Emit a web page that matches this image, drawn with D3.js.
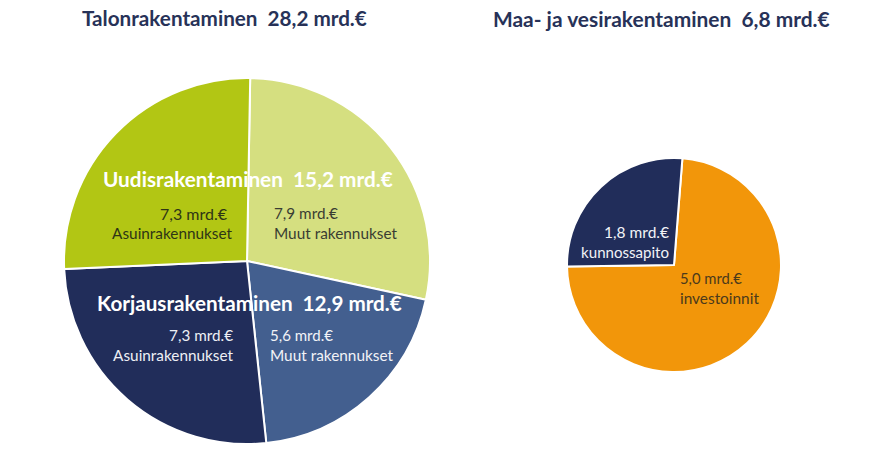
<!DOCTYPE html>
<html>
<head>
<meta charset="utf-8">
<script src="https://cdn.jsdelivr.net/npm/d3@7"></script>
<style>
  html, body { margin: 0; padding: 0; background: #fff; }
  svg { display: block; }
  text { white-space: pre; font-family: Lato, "Open Sans", sans-serif; }
</style>
</head>
<body>
<svg id="chart" width="869" height="463"></svg>
<script>
// ---- Data ----
const titles = ["Talonrakentaminen  28,2 mrd.€", "Maa- ja vesirakentaminen  6,8 mrd.€"];

// Talonrakentaminen (clockwise from top)
const talonCategories = ["Muut rakennukset", "Muut rakennukset", "Asuinrakennukset", "Asuinrakennukset"];
const talonGroups = ["Uudisrakentaminen", "Korjausrakentaminen", "Korjausrakentaminen", "Uudisrakentaminen"];
const talonValues = [7.9, 5.6, 7.3, 7.3];
const talonValueLabels = ["7,9 mrd.€", "5,6 mrd.€", "7,3 mrd.€", "7,3 mrd.€"];
const groupLabels = ["Uudisrakentaminen  15,2 mrd.€", "Korjausrakentaminen  12,9 mrd.€"];

// Maa- ja vesirakentaminen (clockwise from top)
const maaCategories = ["investoinnit", "kunnossapito"];
const maaValues = [5.0, 1.8];
const maaValueLabels = ["5,0 mrd.€", "1,8 mrd.€"];

// ---- Styles ----
const talonColors = ["#d5df80", "#435f8f", "#212d5a", "#b2c614"];
const talonTextColors = ["#3a3d33", "#f2f3f7", "#eef0f5", "#2e3516"];
const maaColors = ["#f2960a", "#212d5a"];
const maaTextColors = ["#4b3a1c", "#f2f3f7"];
const titleColor = "#273258";

const svg = d3.select("#chart");
const deg = Math.PI / 180;

function fitText(sel, targetWidth) {
  const w = sel.node().getComputedTextLength();
  const fs = parseFloat(sel.attr("font-size"));
  sel.attr("font-size", fs * targetWidth / w);
}

function addText(x, y, str, opts) {
  const t = svg.append("text")
    .attr("x", x)
    .attr("y", y)
    .attr("dominant-baseline", "central")
    .attr("text-anchor", opts.anchor || "start")
    .attr("font-size", opts.size || 14)
    .attr("font-weight", opts.weight || "normal")
    .attr("fill", opts.color || "#000")
    .text(str);
  if (opts.width) fitText(t, opts.width);
  return t;
}

// ---- Titles ----
addText(82, 18, titles[0], {size: 18, weight: "bold", color: titleColor, width: 285});
addText(493, 18, titles[1], {size: 18, weight: "bold", color: titleColor, width: 337});

// ---- Left pie ----
const L = {cx: 247, cy: 261, r: 183};
const pieL = d3.pie().sort(null).startAngle(1 * deg).endAngle(361 * deg)(talonValues);
const arcL = d3.arc().innerRadius(0).outerRadius(L.r);
const gL = svg.append("g").attr("transform", `translate(${L.cx},${L.cy})`);
gL.selectAll("path").data(pieL).join("path")
  .attr("d", arcL)
  .attr("fill", (d, i) => talonColors[i])
  .attr("stroke", "#fff")
  .attr("stroke-width", 2)
  .attr("stroke-linejoin", "round");

// slice labels (value line + category line), relative to pie center
const talonLabelPos = [
  {dx: 27, dy: -48, anchor: "start", w1: 64, w2: 123},
  {dx: 23, dy: 74, anchor: "start", w1: 63, w2: 123},
  {dx: -14, dy: 74, anchor: "end", w1: 64, w2: 120},
  {dx: -15, dy: -48, anchor: "end", w1: 67, w2: 120}
];
pieL.forEach((d, i) => {
  const p = talonLabelPos[i];
  const x = L.cx + p.dx, y = L.cy + p.dy;
  addText(p.anchor === "end" && i === 3 ? x - 5 : x, y, talonValueLabels[i],
    {anchor: p.anchor, size: 14, color: talonTextColors[i], width: p.w1});
  addText(x, y + 20, talonCategories[i],
    {anchor: p.anchor, size: 14, color: talonTextColors[i], width: p.w2});
});

// group labels
addText(103, 178, groupLabels[0], {size: 18, weight: "bold", color: "#ffffff", width: 290});
addText(97, 303, groupLabels[1], {size: 18, weight: "bold", color: "#ffffff", width: 305});

// ---- Right pie ----
const R = {cx: 674, cy: 265, r: 107};
const pieR = d3.pie().sort(null).startAngle(4.5 * deg).endAngle(364.5 * deg)(maaValues);
const arcR = d3.arc().innerRadius(0).outerRadius(R.r);
const gR = svg.append("g").attr("transform", `translate(${R.cx},${R.cy})`);
gR.selectAll("path").data(pieR).join("path")
  .attr("d", arcR)
  .attr("fill", (d, i) => maaColors[i])
  .attr("stroke", "#fff")
  .attr("stroke-width", 2)
  .attr("stroke-linejoin", "round");

const maaLabelPos = [
  {dx: 6, dy: 13, anchor: "start", w1: 62, w2: 79},
  {dx: -5, dy: -33, anchor: "end", w1: 65, w2: 88}
];
pieR.forEach((d, i) => {
  const p = maaLabelPos[i];
  const x = R.cx + p.dx, y = R.cy + p.dy;
  addText(x, y, maaValueLabels[i], {anchor: p.anchor, size: 14, color: maaTextColors[i], width: p.w1});
  addText(x, y + 20, maaCategories[i], {anchor: p.anchor, size: 14, color: maaTextColors[i], width: p.w2});
});
</script>
</body>
</html>
